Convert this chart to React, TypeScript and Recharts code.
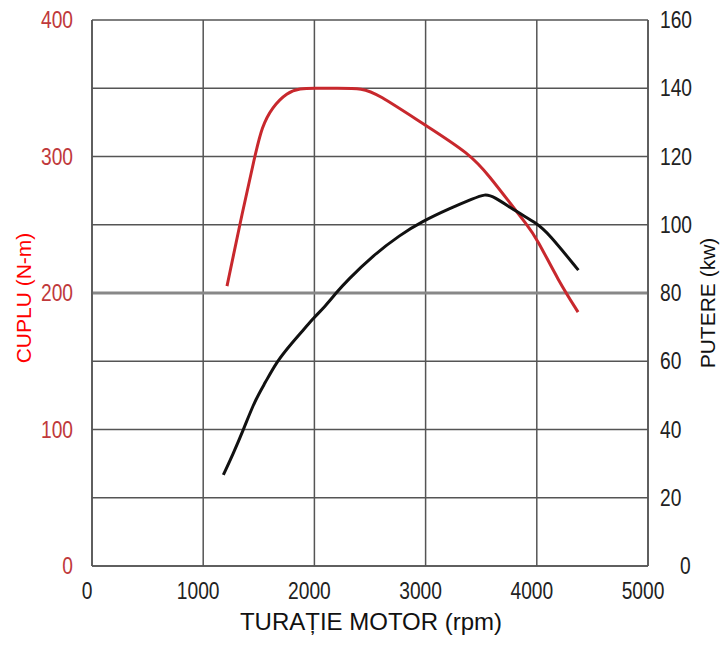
import { LineChart, Line, XAxis, YAxis, CartesianGrid, ReferenceLine, Label } from "recharts";

const torqueRpm = [1214, 1331, 1466, 1529, 1619, 1754, 1870, 2000, 2200, 2437, 2563, 2977, 3400, 3579, 3759, 3911, 4000, 4194, 4371];
const torqueNm = [205, 251, 301, 322, 336, 347, 350, 350, 350, 350, 346, 324, 302, 285, 266, 250, 240, 209, 186];

const powerRpm = [1181, 1271, 1361, 1466, 1556, 1661, 1796, 1915, 1990, 2095, 2200, 2290, 2530, 2770, 2965, 3219, 3429, 3534, 3609, 3819, 4000, 4104, 4374];
const powerKw = [26.7, 33, 39.9, 48.6, 53.6, 59.9, 65.3, 69.7, 72.6, 76, 80.2, 83.5, 91.1, 97, 100.9, 104.8, 107.7, 109, 108.4, 103.8, 100.4, 97.5, 86.7];

const rpmTicks = [0, 1000, 2000, 3000, 4000, 5000];
const nmTicks = [0, 100, 200, 300, 400];
const kwTicks = [0, 20, 40, 60, 80, 100, 120, 140, 160];

const torqueData = torqueRpm.map((rpm, i) => ({ rpm, nm: torqueNm[i] }));
const powerData = powerRpm.map((rpm, i) => ({ rpm, kw: powerKw[i] }));

const sans = "'Liberation Sans', Arial, sans-serif";

// condensed-looking tick text (no narrow font installed)
const Tick = (props: any) => {
  const { x, y, payload, dx = 0, dy = 0, anchor, fill } = props;
  return (
    <g transform={`translate(${x + dx},${y + dy})`}>
      <text transform="scale(0.8,1)" fill={fill} fontSize={24} fontFamily={sans} textAnchor={anchor} dy={8}>
        {payload.value}
      </text>
    </g>
  );
};

const LeftTick = (props: any) => <Tick {...props} dx={-11} anchor="end" fill="#c0393b" />;
const RightTick = (props: any) => (
  <Tick {...props} dx={props.payload.value === 0 ? 24 : 4} anchor="start" fill="#222" />
);
const BottomTick = (props: any) => <Tick {...props} dx={-5} dy={17} anchor="middle" fill="#222" />;

export default function App() {
  return (
    <div style={{ position: "absolute", left: 0, top: 0, background: "#fff" }}>
      <LineChart width={725} height={645} margin={{ top: 20, right: 0, bottom: 0, left: 0 }}>
        <CartesianGrid yAxisId="kw" stroke="#555" strokeWidth={1.5} />
        <ReferenceLine yAxisId="nm" y={200} stroke="#888" strokeWidth={3} />
        <XAxis
          dataKey="rpm"
          type="number"
          domain={[0, 5000]}
          ticks={rpmTicks}
          height={79}
          tickLine={false}
          axisLine={{ stroke: "#555", strokeWidth: 1.5 }}
          tick={<BottomTick />}
        >
          <Label
            content={() => (
              <text x={371} y={630} textAnchor="middle" fontSize={24} fontFamily={sans} fill="#111">
                TURAȚIE MOTOR (rpm)
              </text>
            )}
          />
        </XAxis>
        <YAxis
          yAxisId="nm"
          domain={[0, 400]}
          ticks={nmTicks}
          width={92}
          tickLine={false}
          axisLine={{ stroke: "#555", strokeWidth: 1.5 }}
          tick={<LeftTick />}
        >
          <Label
            content={() => (
              <text x={31} y={298} transform="rotate(-90 31 298)" textAnchor="middle" fontSize={21} fontFamily={sans} fill="#ff0000">
                CUPLU (N-m)
              </text>
            )}
          />
        </YAxis>
        <YAxis
          yAxisId="kw"
          orientation="right"
          domain={[0, 160]}
          ticks={kwTicks}
          width={77}
          tickLine={false}
          axisLine={{ stroke: "#555", strokeWidth: 1.5 }}
          tick={<RightTick />}
        >
          <Label
            content={() => (
              <text x={715} y={303} transform="rotate(-90 715 303)" textAnchor="middle" fontSize={21} fontFamily={sans} fill="#111">
                PUTERE (kw)
              </text>
            )}
          />
        </YAxis>
        <Line
          yAxisId="nm"
          data={torqueData}
          dataKey="nm"
          type="basis"
          stroke="#c8282d"
          strokeWidth={3}
          dot={false}
          isAnimationActive={false}
        />
        <Line
          yAxisId="kw"
          data={powerData}
          dataKey="kw"
          type="basis"
          stroke="#111"
          strokeWidth={3}
          dot={false}
          isAnimationActive={false}
        />
      </LineChart>
    </div>
  );
}
